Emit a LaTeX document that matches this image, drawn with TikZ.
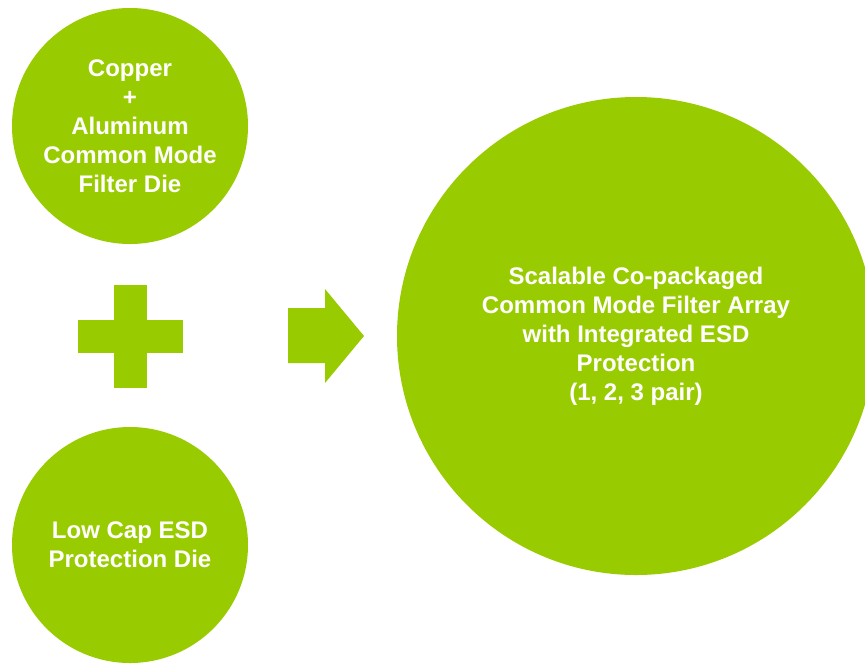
\documentclass[tikz,border=0pt]{standalone}
\usepackage{fontspec}
\setmainfont{Liberation Sans}
\definecolor{lime}{HTML}{99CC00}
\tikzset{
  disc/.style={circle, fill=lime, draw=none, inner sep=0pt, minimum size=#1},
  lbl/.style={text=white, font=\fontsize{24}{29}\selectfont\bfseries, align=center},
  shapefill/.style={fill=lime, draw=none}
}
\begin{document}
\begin{tikzpicture}[x=1pt,y=-1pt]
\useasboundingbox (0,0) rectangle (865,665);
\clip (0,0) rectangle (865,665);
\fill[white] (0,0) rectangle (865,665);
% circles
\node[disc=236pt] (cu) at (130,126) {};
\node[lbl] (cut) at (cu.center) {Copper\\+\\Aluminum\\Common Mode\\Filter Die};
\node[disc=236pt] (esd) at (130,545) {};
\node[lbl] (esdt) at (esd.center) {Low Cap ESD\\Protection Die};
\node[disc=478pt] (res) at (636,336) {};
\node[lbl] (rest) at (res.center) {Scalable Co-packaged\\Common Mode Filter Array\\with Integrated ESD\\Protection\\(1, 2, 3 pair)};
% plus sign
\fill[shapefill] (114,285) rectangle (147,388);
\fill[shapefill] (78,320) rectangle (183,353);
% arrow
\fill[shapefill] (288,308) -- (325,308) -- (325,289) -- (364,336) -- (325,383) -- (325,363) -- (288,363) -- cycle;
\end{tikzpicture}
\end{document}
